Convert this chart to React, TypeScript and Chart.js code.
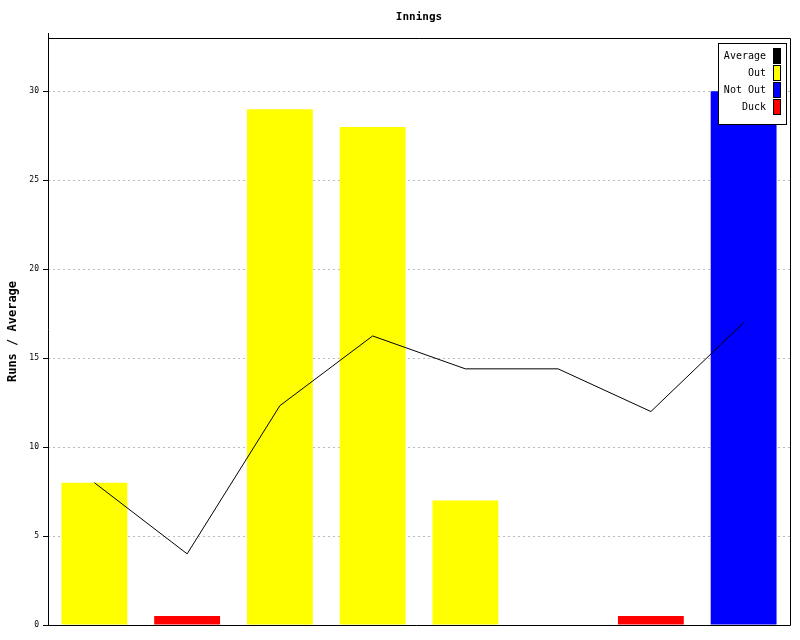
import React, { useEffect, useRef } from "react";
import { Chart, registerables } from "chart.js";

Chart.register(...registerables);

const categories = ["1", "2", "3", "4", "5", "6", "7", "8"];
const averageValues = [8, 4, 12.33, 16.25, 14.4, 14.4, 12, 17];
const outValues = [8, null, 29, 28, 7, null, null, null];
const notOutValues = [null, null, null, null, null, null, null, 30];
const duckValues = [null, 0.5, null, null, null, null, 0.5, null];
const yTicks = [0, 5, 10, 15, 20, 25, 30];
const legendLabels = ["Average", "Out", "Not Out", "Duck"];
const legendColors = ["#000000", "#ffff00", "#0000ff", "#ff0000"];
const titleText = "Innings";
const yTitle = "Runs / Average";

const FONT = "'DejaVu Sans Mono', 'Liberation Mono', monospace";

const framePlugin = {
  id: "frame",
  afterDraw(chart: any) {
    const { ctx, chartArea: a } = chart;
    ctx.save();
    ctx.strokeStyle = "#000";
    ctx.lineWidth = 1;
    ctx.setLineDash([]);
    ctx.beginPath();
    ctx.moveTo(a.left + 0.5, a.top - 5);
    ctx.lineTo(a.left + 0.5, a.bottom + 0.5);
    ctx.moveTo(a.left - 5, a.bottom + 0.5);
    ctx.lineTo(a.right + 0.5, a.bottom + 0.5);
    ctx.moveTo(a.left, a.top + 0.5);
    ctx.lineTo(a.right + 0.5, a.top + 0.5);
    ctx.lineTo(a.right + 0.5, a.bottom + 0.5);
    ctx.stroke();

    ctx.fillStyle = "#000";
    ctx.font = `bold 11px ${FONT}`;
    ctx.textAlign = "center";
    ctx.textBaseline = "middle";
    ctx.fillText(titleText, (a.left + a.right) / 2, 17);

    const bx = 718, by = 43, bw = 68, bh = 81;
    ctx.fillStyle = "#fff";
    ctx.fillRect(bx, by, bw, bh);
    ctx.strokeStyle = "#000";
    ctx.strokeRect(bx + 0.5, by + 0.5, bw, bh);
    ctx.font = `10px ${FONT}`;
    ctx.textAlign = "right";
    legendLabels.forEach((lab, i) => {
      const cy = 56 + i * 17;
      ctx.fillStyle = "#000";
      ctx.fillText(lab, 766, cy);
      ctx.fillStyle = legendColors[i];
      ctx.fillRect(774, cy - 7, 6, 14);
      ctx.strokeStyle = "#000";
      ctx.strokeRect(773.5, cy - 7.5, 7, 15);
    });
    ctx.restore();
  },
};

export default function App() {
  const ref = useRef<HTMLCanvasElement | null>(null);
  useEffect(() => {
    if (!ref.current) return;
    const chart = new Chart(ref.current, {
      type: "bar",
      data: {
        labels: categories,
        datasets: [
          {
            type: "line",
            label: "Average",
            data: averageValues,
            borderColor: "#000",
            borderWidth: 1,
            pointRadius: 0,
            tension: 0,
            fill: false,
            order: 0,
          } as any,
          {
            label: "Out",
            data: outValues,
            backgroundColor: "#ffff00",
            grouped: false,
            barPercentage: 0.71,
            categoryPercentage: 1,
            order: 1,
          },
          {
            label: "Not Out",
            data: notOutValues,
            backgroundColor: "#0000ff",
            grouped: false,
            barPercentage: 0.71,
            categoryPercentage: 1,
            order: 1,
          },
          {
            label: "Duck",
            data: duckValues,
            backgroundColor: "#ff0000",
            grouped: false,
            barPercentage: 0.71,
            categoryPercentage: 1,
            order: 1,
          },
        ],
      },
      options: {
        responsive: false,
        animation: false,
        layout: { padding: { top: 38, right: 10, bottom: 15, left: 0 } },
        plugins: {
          legend: { display: false },
          title: { display: false },
          tooltip: { enabled: false },
        },
        scales: {
          x: { display: false },
          y: {
            min: 0,
            max: 33,
            z: 1,
            afterBuildTicks(scale: any) {
              scale.ticks = yTicks.map((v) => ({ value: v }));
            },
            afterFit(scale: any) {
              scale.width = 48;
            },
            border: { display: false, dash: [2, 3] },
            grid: {
              color: (c: any) => (c.tick && c.tick.value === 0 ? "rgba(0,0,0,0)" : "#bbbbbb"),
              tickBorderDash: [],
              tickColor: "#000",
              tickLength: 5,
              lineWidth: 1,
            },
            ticks: {
              color: "#000",
              font: { family: FONT, size: 8 },
              padding: 4,
            },
            title: {
              display: true,
              text: yTitle,
              color: "#000",
              font: { family: FONT, size: 12, weight: "bold" },
              padding: { top: 6, bottom: 0 },
            },
          },
        },
      },
      plugins: [framePlugin],
    });
    return () => chart.destroy();
  }, []);
  return (
    <div style={{ position: "fixed", left: 0, top: 0, width: 800, height: 640, background: "#fff" }}>
      <canvas ref={ref} width={800} height={640} />
    </div>
  );
}
